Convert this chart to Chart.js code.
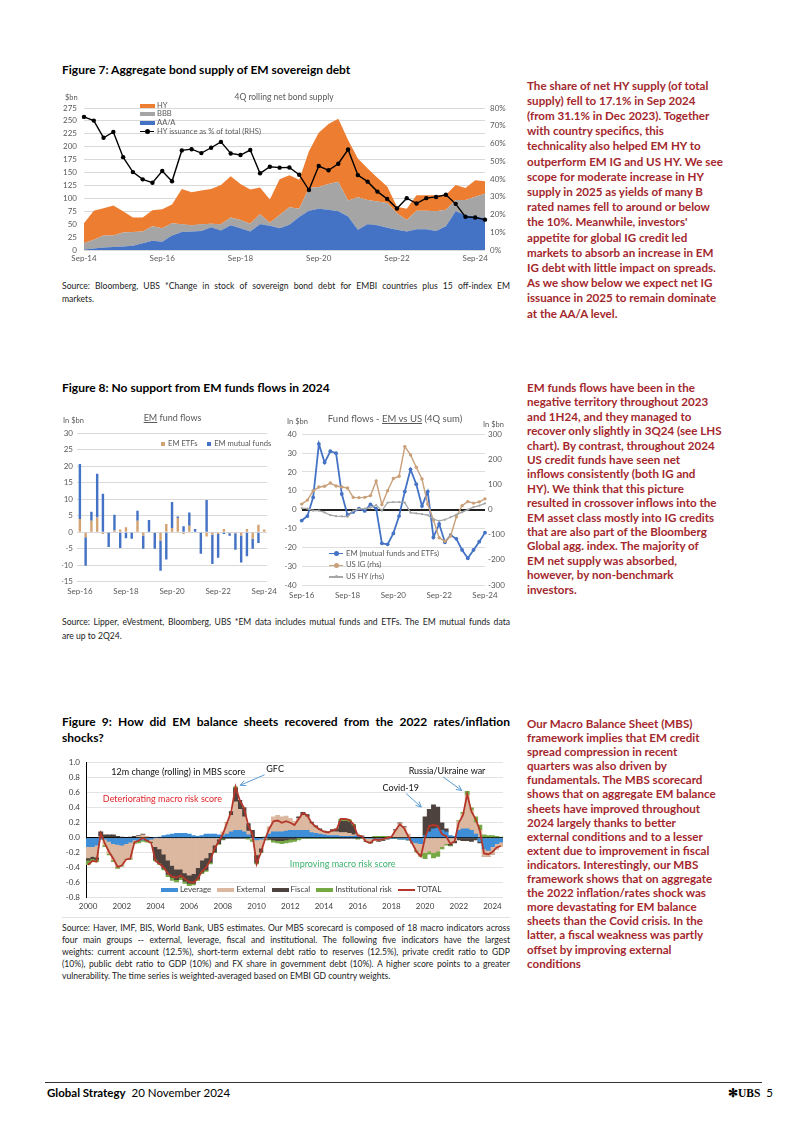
<!DOCTYPE html>
<html>
<head>
<meta charset="utf-8">
<script src="https://cdn.jsdelivr.net/npm/chart.js@4.4.1/dist/chart.umd.min.js"></script>
<style>
  body { margin: 0; background: #fff; }
  #page { position: relative; width: 802px; height: 1134px; overflow: hidden; font-family: Lato, 'Open Sans', sans-serif; color: #000; }
  .abs { position: absolute; }
  canvas { position: absolute; }
  .ftitle { left: 62px; width: 448px; font-weight: bold; font-size: 12px; line-height: 16px; white-space: nowrap; }
  .side { left: 527px; color: #a3282d; font-weight: bold; font-size: 11.6px; white-space: nowrap; }
  .src { left: 62px; width: 448px; font-size: 8.6px; color: #222; }
  .src div, .jl { white-space: nowrap; text-align: justify; text-align-last: justify; }
  .src div.last { text-align-last: left; }
  .cap { font-size: 8px; color: #595959; white-space: nowrap; }
  .lg { font-size: 7.6px; color: #595959; white-space: nowrap; }
  .sw { display: inline-block; width: 15px; height: 4px; vertical-align: middle; margin-right: 2px; }
  .sq { display: inline-block; width: 4px; height: 4px; vertical-align: middle; margin-right: 3px; }
  .ls { display: inline-block; width: 14px; height: 1.5px; vertical-align: middle; margin-right: 3px; position: relative; }
  .ls i { position: absolute; left: 5px; top: -2px; width: 5px; height: 5px; border-radius: 50%; background: inherit; }
</style>
</head>
<body>
<div id="page">

  <!-- Figure 7 -->
  <div class="abs ftitle" style="top:62px">Figure 7: Aggregate bond supply of EM sovereign debt</div>
  <canvas id="supplyChart" width="448" height="180" style="left:62px;top:85px"></canvas>
  <div class="abs cap" style="left:65px;top:93px;font-size:7.5px">$bn</div>
  <div class="abs cap" style="left:184px;width:200px;text-align:center;top:92px;font-size:8.5px">4Q rolling net bond supply</div>
  <div class="abs lg" style="left:140px;top:100.5px;line-height:8.7px">
    <div><span class="sw" style="background:#ED7D31"></span>HY</div>
    <div><span class="sw" style="background:#A5A5A5"></span>BBB</div>
    <div><span class="sw" style="background:#4472C4"></span>AA/A</div>
    <div><span class="ls" style="background:#000"><i></i></span>HY issuance as % of total (RHS)</div>
  </div>
  <div class="abs src" style="top:280px;line-height:13px">
    <div>Source: Bloomberg, UBS *Change in stock of sovereign bond debt for EMBI countries plus 15 off-index EM</div>
    <div class="last">markets.</div>
  </div>

  <div class="abs side" style="top:77.5px;line-height:15.2px">
    The share of net HY supply (of total<br>
    supply) fell to 17.1% in Sep 2024<br>
    (from 31.1% in Dec 2023). Together<br>
    with country specifics, this<br>
    technicality also helped EM HY to<br>
    outperform EM IG and US HY. We see<br>
    scope for moderate increase in HY<br>
    supply in 2025 as yields of many B<br>
    rated names fell to around or below<br>
    the 10%. Meanwhile, investors'<br>
    appetite for global IG credit led<br>
    markets to absorb an increase in EM<br>
    IG debt with little impact on spreads.<br>
    As we show below we expect net IG<br>
    issuance in 2025 to remain dominate<br>
    at the AA/A level.
  </div>

  <!-- Figure 8 -->
  <div class="abs ftitle" style="top:380px">Figure 8: No support from EM funds flows in 2024</div>
  <canvas id="emFlowChart" width="220" height="195" style="left:62px;top:405px"></canvas>
  <div class="abs cap" style="left:100px;width:145px;text-align:center;top:412px;font-size:9px"><u>EM</u> fund flows</div>
  <div class="abs cap" style="left:63px;top:416px;font-size:7.5px">In $bn</div>
  <div class="abs lg" style="left:161px;top:437.5px">
    <span class="sq" style="background:#D4A373"></span>EM ETFs&nbsp;&nbsp;&nbsp;&nbsp;&nbsp;<span class="sq" style="background:#4472C4"></span>EM mutual funds
  </div>

  <canvas id="flowSumChart" width="228" height="195" style="left:282px;top:405px"></canvas>
  <div class="abs cap" style="left:320px;width:150px;text-align:center;top:413px;font-size:9.5px">Fund flows - <u>EM vs US</u> (4Q sum)</div>
  <div class="abs cap" style="left:287px;top:417px;font-size:7.5px">In $bn</div>
  <div class="abs cap" style="left:483px;top:420px;font-size:7.5px">In $bn</div>
  <div class="abs lg" style="left:329px;top:547.5px;line-height:11.8px">
    <div><span class="ls" style="background:#4472C4"><i></i></span>EM (mutual funds and ETFs)</div>
    <div><span class="ls" style="background:#C9A07A"><i></i></span>US IG (rhs)</div>
    <div><span class="ls" style="background:#A5A5A5"><i style="width:3px;height:3px;top:-1px;left:6px"></i></span>US HY (rhs)</div>
  </div>
  <div class="abs src" style="top:616px;line-height:13.5px">
    <div>Source: Lipper, eVestment, Bloomberg, UBS *EM data includes mutual funds and ETFs. The EM mutual funds data</div>
    <div class="last">are up to 2Q24.</div>
  </div>

  <div class="abs side" style="top:381px;line-height:14.4px">
    EM funds flows have been in the<br>
    negative territory throughout 2023<br>
    and 1H24, and they managed to<br>
    recover only slightly in 3Q24 (see LHS<br>
    chart). By contrast, throughout 2024<br>
    US credit funds have seen net<br>
    inflows consistently (both IG and<br>
    HY). We think that this picture<br>
    resulted in crossover inflows into the<br>
    EM asset class mostly into IG credits<br>
    that are also part of the Bloomberg<br>
    Global agg. index. The majority of<br>
    EM net supply was absorbed,<br>
    however, by non-benchmark<br>
    investors.
  </div>

  <!-- Figure 9 -->
  <div class="abs ftitle" style="top:714px">
    <div class="jl">Figure 9: How did EM balance sheets recovered from the 2022 rates/inflation</div>
    <div>shocks?</div>
  </div>
  <canvas id="mbsChart" width="448" height="163" style="left:62px;top:752px"></canvas>
  <div class="abs lg" style="left:161px;top:884px;font-size:8px;color:#404040">
    <span class="sw" style="background:#3E8ED8;width:17px"></span>Leverage&nbsp;&nbsp;
    <span class="sw" style="background:#DDB8A0;width:17px"></span>External&nbsp;&nbsp;
    <span class="sw" style="background:#4D423D;width:17px"></span>Fiscal&nbsp;&nbsp;
    <span class="sw" style="background:#76A844;width:17px"></span>Institutional risk&nbsp;&nbsp;
    <span class="sw" style="background:#B4372A;width:17px;height:2px"></span>TOTAL
  </div>
  <div class="abs" style="left:62px;top:917px;width:448px;height:1px;background:#e3e3e3"></div>
  <div class="abs src" style="top:922px;line-height:12px">
    <div>Source: Haver, IMF, BIS, World Bank, UBS estimates. Our MBS scorecard is composed of 18 macro indicators across</div>
    <div>four main groups -- external, leverage, fiscal and institutional. The following five indicators have the largest</div>
    <div>weights: current account (12.5%), short-term external debt ratio to reserves (12.5%), private credit ratio to GDP</div>
    <div>(10%), public debt ratio to GDP (10%) and FX share in government debt (10%). A higher score points to a greater</div>
    <div class="last">vulnerability. The time series is weighted-averaged based on EMBI GD country weights.</div>
  </div>

  <div class="abs side" style="top:717px;line-height:14.1px">
    Our Macro Balance Sheet (MBS)<br>
    framework implies that EM credit<br>
    spread compression in recent<br>
    quarters was also driven by<br>
    fundamentals. The MBS scorecard<br>
    shows that on aggregate EM balance<br>
    sheets have improved throughout<br>
    2024 largely thanks to better<br>
    external conditions and to a lesser<br>
    extent due to improvement in fiscal<br>
    indicators. Interestingly, our MBS<br>
    framework shows that on aggregate<br>
    the 2022 inflation/rates shock was<br>
    more devastating for EM balance<br>
    sheets than the Covid crisis. In the<br>
    latter, a fiscal weakness was partly<br>
    offset by improving external<br>
    conditions
  </div>

  <!-- Footer -->
  <div class="abs" style="left:45px;top:1082px;width:717px;height:1px;background:#333"></div>
  <div class="abs" style="left:47px;top:1086px;font-size:11.5px;white-space:nowrap"><b>Global Strategy</b>&nbsp; 20 November 2024</div>
  <div class="abs" style="left:728px;top:1086px;font-size:11.5px;white-space:nowrap"><span style="font-family:'Liberation Serif',serif;font-weight:bold">✻UBS</span>&nbsp; 5</div>
</div>

<script>
// Figure 7: 4Q rolling net bond supply, $bn (stacked) and HY share, %
const supplyLabels = ['Sep-14','Dec-14','Mar-15','Jun-15','Sep-15','Dec-15','Mar-16','Jun-16','Sep-16','Dec-16',
  'Mar-17','Jun-17','Sep-17','Dec-17','Mar-18','Jun-18','Sep-18','Dec-18','Mar-19','Jun-19',
  'Sep-19','Dec-19','Mar-20','Jun-20','Sep-20','Dec-20','Mar-21','Jun-21','Sep-21','Dec-21',
  'Mar-22','Jun-22','Sep-22','Dec-22','Mar-23','Jun-23','Sep-23','Dec-23','Mar-24','Jun-24','Sep-24','Oct-24'];
const supplyAAA = [1,3,5,6,7,8,13,18,16,28,35,36,37,44,38,48,42,36,50,47,42,49,64,76,80,78,75,65,39,50,48,43,39,36,40,40,37,46,75,68,65,62];
const supplyBBB = [12,17,23,22,27,27,23,28,26,24,15,12,13,7,12,15,16,15,19,6,26,34,16,44,42,50,57,31,63,47,46,48,32,22,36,36,38,32,22,29,38,47];
const supplyHY = [39,56,53,58,41,28,27,31,37,36,68,64,65,67,76,80,70,66,52,45,69,62,56,71,105,116,122,117,75,61,46,32,13,22,30,30,31,29,29,23,32,24];
const hyShare = [75,72.9,63.2,66.5,52.3,43.9,39.8,37.9,44.5,38.7,56.1,56.8,54.6,57.6,60.9,54.4,53.5,56.3,43.2,46.9,
  46.4,46.5,42.4,33.8,47.3,44.9,48.6,56.6,42.2,38.5,32.9,28.8,23.4,29.2,26.2,29.2,29.9,31.1,26.0,18.7,18.3,17.1];

// Figure 8: EM fund flows, $bn (quarterly) and 4Q sums
const flowLabels = ['Sep-16','Dec-16','Mar-17','Jun-17','Sep-17','Dec-17','Mar-18','Jun-18','Sep-18','Dec-18',
  'Mar-19','Jun-19','Sep-19','Dec-19','Mar-20','Jun-20','Sep-20','Dec-20','Mar-21','Jun-21',
  'Sep-21','Dec-21','Mar-22','Jun-22','Sep-22','Dec-22','Mar-23','Jun-23','Sep-23','Dec-23','Mar-24','Jun-24','Sep-24'];
const emEtf = [4,-1.5,3.5,4.5,-0.5,0,0.5,0.8,1.5,0,3.5,-1,0,-0.2,-2.5,2.5,1.3,4.3,-0.5,2,0,0,-1.3,-0.8,-0.5,1,-0.3,-0.3,-1,1,-2,2.3,0.8];
const emMutual = [16.7,-8.7,2.7,13.2,11.7,-4.5,4.8,-4.8,-1.8,-2,3,-4,3.7,-4.8,-9.2,-8.3,7.9,0.5,1.8,4,1,-6.5,9.8,-8.8,-7.2,-0.5,-0.8,-5,-8.2,-7.3,-3,-3.3,0];
const emFlows4q = [-5.8,-3.4,6.5,34.9,25,31,30,8.3,-2.8,-1.2,0.5,-0.7,2.8,0.5,-17.9,-18.4,-12.6,-3.4,9.6,21.4,
  13.5,1.9,9.6,-14.7,-7.6,-17.3,-13.5,-15.5,-21.4,-25.8,-21.4,-17,-12.2];
const usIg4q = [22,38,75,90,93,106,94,90,86,49,48,49,56,114,20,75,124,133,251,218,169,122,22,-41,-112,-126,-105,-28,16,32,26,31,43];
const usHy4q = [6,4,-4,-4,-11,-22,-26,-27,-28,-5,3,4,8,18,-4,28,30,30,28,-12,-15,-18,-22,-38,-45,-40,-30,-20,-10,0,10,16,25];

// Figure 9: 12m change in MBS score, quarterly from 2000Q1
const mbsStartYear = 2000;
const mbsLeverage = [
  -0.12,-0.12,-0.1,-0.02, -0.02,-0.05,-0.08,-0.09, -0.1,-0.08,-0.06,-0.03, -0.04,-0.03,-0.03,-0.02,
  0,0.01,0.03,0.04, 0.05,0.06,0.06,0.06, 0.05,0.03,0.02,0.03, 0.05,0.05,0.05,0.04,
  0.03,0.05,0.08,0.1, 0.1,0.08,0.04,0, -0.03,-0.02,0.01,0.05, 0.08,0.08,0.08,0.09,
  0.1,0.1,0.1,0.1, 0.1,0.07,0.06,0.05, 0.04,0.03,0.03,0.03, 0.02,0.02,0.02,0.02,
  0.03,0.02,-0.01,-0.01, -0.02,-0.02,-0.02,-0.01, -0.01,-0.01,-0.02,-0.02, -0.03,-0.06,-0.07,-0.08,
  0.03,0.08,0.12,0.13, 0.1,0.08,0.03,0.02, 0.1,0.12,0.12,0.1, 0.05,-0.05,-0.15,-0.17, -0.12,-0.08,-0.06];
const mbsExternal = [
  -0.15,-0.13,-0.16,0.02, -0.08,-0.16,-0.22,-0.3, -0.27,-0.2,-0.22,-0.04, 0.02,0.04,0.02,-0.03,
  -0.12,-0.15,-0.22,-0.3, -0.37,-0.42,-0.42,-0.47, -0.5,-0.48,-0.4,-0.3, -0.27,-0.2,-0.1,-0.02,
  0.05,0.15,0.22,0.38, 0.28,0.2,0.05,-0.02, -0.2,-0.12,-0.02,0.1, 0.2,0.22,0.2,0.2,
  0.16,0.12,0.16,0.2, 0.18,0.12,0.08,0.05, 0.04,0.04,0.05,0.05, 0.05,0.05,0.04,0.02,
  0.02,0.01,-0.03,-0.04, -0.02,-0.02,-0.01,0, 0.02,0.1,0.19,0.14, 0.05,-0.02,-0.1,-0.13,
  -0.2,-0.18,-0.2,-0.18, -0.12,-0.08,-0.08,-0.04, 0.12,0.2,0.45,0.27, 0.15,0.1,-0.1,-0.08, -0.1,-0.07,-0.06];
const mbsFiscal = [
  -0.03,-0.03,-0.03,0.06, 0.04,0.04,0.04,0.02, 0.01,0,0.01,0.02, 0.01,0.01,-0.01,-0.01,
  -0.17,-0.19,-0.19,-0.19, -0.16,-0.14,-0.11,-0.11, -0.11,-0.13,-0.15,-0.16, -0.16,-0.13,-0.09,-0.06,
  -0.02,0,0.05,0.18, 0.12,0.12,0.1,0.1, -0.1,-0.05,-0.01,-0.02, -0.03,-0.04,-0.04,-0.03,
  -0.02,-0.02,0.02,0.04, 0.03,0.02,0.02,0.02, 0.01,0.01,0.03,0.04, 0.15,0.15,0.15,0.12,
  -0.01,0,-0.01,-0.02, 0,-0.01,-0.01,-0.01, 0,0.01,0.01,0.01, 0,0,0,0,
  0.25,0.3,0.32,0.28, 0.1,0.04,-0.02,-0.03, -0.03,-0.04,-0.04,-0.05, -0.03,-0.02,0,0, 0,0,0];
const mbsInstitutional = [
  -0.06,-0.03,-0.03,0, -0.02,-0.02,-0.02,-0.02, -0.01,-0.01,-0.01,-0.01, -0.03,-0.02,-0.02,-0.01,
  -0.02,-0.02,-0.02,-0.03, -0.04,-0.03,-0.03,-0.03, -0.03,-0.02,-0.02,-0.02, -0.02,-0.02,-0.01,-0.01,
  -0.01,0,0,0.02, 0,0,-0.02,-0.03, -0.02,-0.01,0,-0.01, -0.03,-0.03,-0.04,-0.04,
  -0.04,-0.03,-0.03,-0.01, -0.01,-0.01,-0.01,-0.01, -0.01,-0.01,-0.01,-0.01, 0.03,0.03,0.03,0.02,
  -0.01,-0.01,0,0, 0.02,0.02,0.02,0.02, 0,0,0,0, 0,0,-0.02,-0.04,
  -0.08,-0.04,-0.07,-0.07, -0.03,-0.02,-0.01,0, 0.01,0.02,0.05,0.03, 0.08,0.07,0.04,0.03, 0.03,0.02,0.01];
const mbsTotal = [
  -0.36,-0.31,-0.32,0.06, -0.08,-0.19,-0.28,-0.39, -0.37,-0.29,-0.28,-0.06, -0.04,0,-0.04,-0.07,
  -0.31,-0.35,-0.4,-0.48, -0.52,-0.53,-0.5,-0.55, -0.59,-0.6,-0.55,-0.45, -0.4,-0.3,-0.15,-0.05,
  0.05,0.2,0.35,0.68, 0.5,0.4,0.17,0.05, -0.35,-0.2,-0.02,0.12, 0.22,0.23,0.2,0.22,
  0.2,0.17,0.25,0.33, 0.3,0.2,0.15,0.11, 0.08,0.07,0.1,0.11, 0.25,0.25,0.24,0.18,
  0.03,0.02,-0.05,-0.07, -0.02,-0.03,-0.02,0, 0.01,0.1,0.18,0.13, 0.02,-0.08,-0.19,-0.25,
  0,0.16,0.17,0.16, 0.05,0.02,-0.08,-0.05, 0.2,0.3,0.58,0.35, 0.25,0.1,-0.21,-0.22, -0.19,-0.13,-0.11];
const mbsLabels = mbsTotal.map((v, i) => (mbsStartYear + Math.floor(i / 4)) + ' Q' + (i % 4 + 1));

Chart.defaults.font.family = "Lato, 'Open Sans', sans-serif";
Chart.defaults.font.size = 8;
Chart.defaults.color = '#595959';
Chart.defaults.animation = false;
Chart.defaults.responsive = false;
Chart.defaults.plugins.legend.display = false;
Chart.defaults.plugins.tooltip.enabled = false;

const fixWidth = w => scale => { scale.width = w; };
const fixHeight = h => scale => { scale.height = h; };
const everyEighth = labels => (v, i) => (i % 8 === 0 ? labels[i] : '');
const isZero = v => Math.abs(v) < 1e-9;

new Chart(document.getElementById('supplyChart'), {
  type: 'line',
  data: {
    labels: supplyLabels,
    datasets: [
      { label: 'AA/A', data: supplyAAA, fill: 'origin', backgroundColor: '#4472C4', borderColor: 'rgba(0,0,0,0)', borderWidth: 0, pointRadius: 0, order: 2 },
      { label: 'BBB', data: supplyBBB, fill: '-1', backgroundColor: '#A5A5A5', borderColor: 'rgba(0,0,0,0)', borderWidth: 0, pointRadius: 0, order: 2 },
      { label: 'HY', data: supplyHY, fill: '-1', backgroundColor: '#ED7D31', borderColor: 'rgba(0,0,0,0)', borderWidth: 0, pointRadius: 0, order: 2 },
      { label: 'HY issuance as % of total (RHS)', data: hyShare, yAxisID: 'y1', fill: false, borderColor: '#000', borderWidth: 1.4,
        pointRadius: 2.2, pointBackgroundColor: '#000', pointBorderWidth: 0, order: 1 }
    ]
  },
  options: {
    layout: { padding: { top: 23, right: 0, bottom: 0, left: 0 }, autoPadding: false },
    scales: {
      x: { grid: { display: false, drawTicks: false }, border: { display: false },
           ticks: { autoSkip: false, maxRotation: 0, padding: 4, callback: everyEighth(supplyLabels) }, afterFit: fixHeight(15) },
      y: { stacked: true, min: 0, max: 275, ticks: { stepSize: 25, padding: 7 },
           grid: { color: '#d9d9d9', drawTicks: false }, border: { display: false }, afterFit: fixWidth(22) },
      y1: { position: 'right', min: 0, max: 80, ticks: { stepSize: 10, padding: 5, callback: v => v + '%' },
            grid: { display: false, drawTicks: false }, border: { display: false }, afterFit: fixWidth(25) }
    }
  }
});

new Chart(document.getElementById('emFlowChart'), {
  type: 'bar',
  data: {
    labels: flowLabels,
    datasets: [
      { label: 'EM ETFs', data: emEtf, backgroundColor: '#D4A373', barPercentage: 0.42, categoryPercentage: 1 },
      { label: 'EM mutual funds', data: emMutual, backgroundColor: '#4472C4', barPercentage: 0.42, categoryPercentage: 1 }
    ]
  },
  options: {
    layout: { padding: { top: 28.3, right: 10, bottom: 0, left: 0 }, autoPadding: false },
    scales: {
      x: { stacked: true, grid: { display: false, drawTicks: false }, border: { display: false },
           ticks: { autoSkip: false, maxRotation: 0, padding: 5, callback: everyEighth(flowLabels) }, afterFit: fixHeight(18.3) },
      y: { stacked: true, min: -15, max: 30, ticks: { stepSize: 5, padding: 4 },
           grid: { color: '#d9d9d9', drawTicks: false }, border: { display: false }, afterFit: fixWidth(15) }
    }
  }
});

new Chart(document.getElementById('flowSumChart'), {
  type: 'line',
  data: {
    labels: flowLabels,
    datasets: [
      { label: 'EM (mutual funds and ETFs)', data: emFlows4q, borderColor: '#4472C4', backgroundColor: '#4472C4',
        borderWidth: 1.8, pointRadius: 1.9, pointBorderWidth: 0, order: 3 },
      { label: 'US IG (rhs)', data: usIg4q, yAxisID: 'y1', borderColor: '#C9A07A', backgroundColor: '#C9A07A',
        borderWidth: 1.4, pointRadius: 1.7, pointBorderWidth: 0, order: 2 },
      { label: 'US HY (rhs)', data: usHy4q, yAxisID: 'y1', borderColor: '#A5A5A5', backgroundColor: '#A5A5A5',
        borderWidth: 1.2, pointRadius: 1.1, pointBorderWidth: 0, order: 1 }
    ]
  },
  options: {
    layout: { padding: { top: 29.3, right: 0, bottom: 0, left: 0 }, autoPadding: false },
    scales: {
      x: { grid: { display: false, drawTicks: false }, border: { display: false },
           ticks: { autoSkip: false, maxRotation: 0, padding: 6, callback: everyEighth(flowLabels) }, afterFit: fixHeight(15) },
      y: { min: -40, max: 40, ticks: { stepSize: 10, padding: 5 },
           grid: { drawTicks: false, color: c => (isZero(c.tick.value) ? '#222' : '#dedede'), lineWidth: c => (isZero(c.tick.value) ? 2 : 1) },
           border: { display: false }, afterFit: fixWidth(19.7) },
      y1: { position: 'right', min: -300, max: 300, ticks: { stepSize: 100, padding: 3 },
            grid: { display: false, drawTicks: false }, border: { display: false }, afterFit: fixWidth(25) }
    }
  }
});

function arrow(ctx, x1, y1, x2, y2) {
  const a = Math.atan2(y2 - y1, x2 - x1);
  ctx.beginPath();
  ctx.moveTo(x1, y1);
  ctx.lineTo(x2, y2);
  ctx.stroke();
  ctx.beginPath();
  ctx.moveTo(x2, y2);
  ctx.lineTo(x2 - 6 * Math.cos(a - 0.45), y2 - 6 * Math.sin(a - 0.45));
  ctx.moveTo(x2, y2);
  ctx.lineTo(x2 - 6 * Math.cos(a + 0.45), y2 - 6 * Math.sin(a + 0.45));
  ctx.stroke();
}

const mbsNotes = {
  id: 'mbsNotes',
  afterDatasetsDraw(chart) {
    const { ctx, scales: { x, y } } = chart;
    const px = yr => x.getPixelForValue((yr - mbsStartYear) * 4 - 0.5);
    const py = v => y.getPixelForValue(v);
    ctx.save();
    ctx.textBaseline = 'middle';
    ctx.textAlign = 'left';
    ctx.font = "9px Lato, 'Open Sans', sans-serif";
    ctx.fillStyle = '#111';
    ctx.fillText('12m change (rolling) in MBS score', px(2001.5), py(0.88));
    ctx.fillText('GFC', px(2010.7), py(0.915));
    ctx.fillText('Covid-19', px(2017.6), py(0.66));
    ctx.fillText('Russia/Ukraine war', px(2019.15), py(0.89));
    ctx.fillStyle = '#e0242a';
    ctx.fillText('Deteriorating macro risk score', px(2001.0), py(0.52));
    ctx.fillStyle = '#3bb36f';
    ctx.fillText('Improving macro risk score', px(2012.1), py(-0.345));
    ctx.strokeStyle = '#5B9BD5';
    ctx.lineWidth = 1;
    arrow(ctx, px(2010.6), py(0.84), px(2009.15), py(0.70));
    arrow(ctx, px(2019.0), py(0.59), px(2019.9), py(0.41));
    arrow(ctx, px(2021.2), py(0.81), px(2022.3), py(0.63));
    ctx.restore();
  }
};

new Chart(document.getElementById('mbsChart'), {
  type: 'bar',
  data: {
    labels: mbsLabels,
    datasets: [
      { type: 'line', label: 'TOTAL', data: mbsTotal, borderColor: '#B4372A', borderWidth: 1.8, pointRadius: 0, fill: false, stack: 'total', order: 0 },
      { label: 'Leverage', data: mbsLeverage, backgroundColor: '#3E8ED8', stack: 'mbs', order: 1 },
      { label: 'External', data: mbsExternal, backgroundColor: '#DDB8A0', stack: 'mbs', order: 1 },
      { label: 'Fiscal', data: mbsFiscal, backgroundColor: '#4D423D', stack: 'mbs', order: 1 },
      { label: 'Institutional risk', data: mbsInstitutional, backgroundColor: '#76A844', stack: 'mbs', order: 1 }
    ]
  },
  options: {
    datasets: { bar: { barPercentage: 1, categoryPercentage: 1, borderWidth: 0 } },
    layout: { padding: { top: 9.7, right: 7, bottom: 0, left: 0 }, autoPadding: false },
    scales: {
      x: { stacked: true, grid: { display: false, drawTicks: false }, border: { display: false },
           ticks: { autoSkip: false, maxRotation: 0, padding: 4, color: '#404040',
                    callback: (v, i) => (i % 8 === 0 ? String(mbsStartYear + i / 4) : '') }, afterFit: fixHeight(17.3) },
      y: { stacked: true, min: -0.8, max: 1.0, ticks: { stepSize: 0.2, padding: 6, color: '#404040', callback: v => v.toFixed(1) },
           grid: { drawTicks: false, color: c => (isZero(c.tick.value) ? '#000' : '#e3e3e3'), lineWidth: c => (isZero(c.tick.value) ? 1.5 : 1) },
           border: { display: true, color: '#000', width: 1 }, afterFit: fixWidth(24) }
    }
  },
  plugins: [mbsNotes]
});
</script>
</body>
</html>
